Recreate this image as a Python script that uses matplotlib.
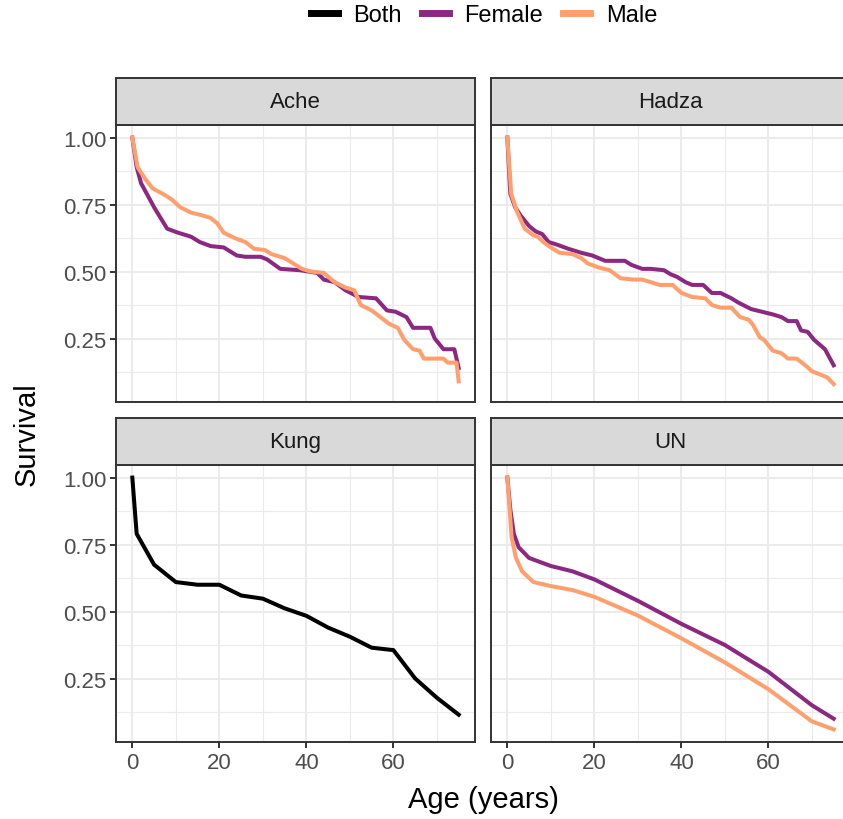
import matplotlib
matplotlib.use("Agg")
import matplotlib.pyplot as plt
from matplotlib.lines import Line2D

plt.rcParams['font.family'] = ['Liberation Sans', 'DejaVu Sans']

# ---- data ----
ache_f_age = [0, 1, 2, 5, 8, 10.5, 13.5, 15.5, 18, 21, 22.5, 24, 26, 29.5, 31, 34, 38.5, 42.5,
              44, 46.5, 49, 52, 56, 58.5, 60.5, 63, 64.5, 68.5, 69.5, 71.5, 74, 75]
ache_f_surv = [1.0, 0.89, 0.83, 0.74, 0.66, 0.645, 0.63, 0.61, 0.595, 0.59, 0.575, 0.56, 0.555,
               0.555, 0.545, 0.51, 0.505, 0.495, 0.47, 0.46, 0.43, 0.405, 0.40, 0.355, 0.35,
               0.33, 0.29, 0.29, 0.25, 0.21, 0.21, 0.14]
ache_m_age = [0, 1.2, 3, 4.7, 7, 9, 11, 13.5, 16, 18, 19.5, 21, 23.5, 26, 28, 30.5, 32, 35, 37,
              39, 41, 44, 46.5, 49, 51, 52.5, 55, 57, 59, 61, 62.5, 64.5, 66, 67, 71.5, 72.5,
              74.5, 75]
ache_m_surv = [1.0, 0.89, 0.845, 0.81, 0.79, 0.77, 0.74, 0.72, 0.71, 0.70, 0.68, 0.645, 0.625,
               0.61, 0.585, 0.58, 0.565, 0.55, 0.53, 0.51, 0.50, 0.495, 0.46, 0.44, 0.43,
               0.375, 0.355, 0.33, 0.305, 0.29, 0.245, 0.21, 0.205, 0.175, 0.175, 0.16, 0.16,
               0.09]

hadza_f_age = [0, 0.7, 1.8, 3, 5, 6.5, 8, 9.5, 11.5, 14, 17, 19.5, 22.5, 27, 28.5, 31, 33, 36,
               37.5, 39, 41, 42.5, 45, 47, 49, 51.5, 53, 56, 58.5, 61, 63, 64.5, 66.5, 67.5,
               69, 70.5, 73, 75]
hadza_f_surv = [1.0, 0.79, 0.74, 0.71, 0.67, 0.65, 0.64, 0.61, 0.60, 0.585, 0.57, 0.56, 0.54,
                0.54, 0.525, 0.51, 0.51, 0.505, 0.49, 0.48, 0.46, 0.45, 0.45, 0.42, 0.42, 0.40,
                0.385, 0.36, 0.35, 0.34, 0.33, 0.315, 0.315, 0.28, 0.275, 0.245, 0.21, 0.15]
hadza_m_age = [0, 0.9, 2.2, 4, 6, 7, 8.3, 10, 12, 15, 17, 18.5, 21, 23.5, 26, 29, 31, 33, 35,
               38, 40, 42.5, 45.5, 47, 49, 51.5, 53.5, 55.5, 56.5, 58, 59, 61, 63, 64.5, 66.5,
               68.5, 70, 73.5, 75]
hadza_m_surv = [1.0, 0.79, 0.725, 0.66, 0.635, 0.63, 0.61, 0.59, 0.57, 0.565, 0.55, 0.53,
                0.515, 0.505, 0.475, 0.47, 0.47, 0.46, 0.45, 0.45, 0.42, 0.405, 0.40, 0.375,
                0.365, 0.365, 0.33, 0.32, 0.30, 0.255, 0.245, 0.205, 0.195, 0.175, 0.175, 0.15,
                0.128, 0.105, 0.08]

kung_age = [0, 1, 5, 10, 15, 20, 25, 30, 35, 40, 45, 50, 55, 60, 65, 70, 75]
kung_surv = [1.0, 0.79, 0.675, 0.61, 0.60, 0.60, 0.56, 0.548, 0.512, 0.484, 0.44, 0.406,
             0.365, 0.356, 0.25, 0.178, 0.115]

un_f_age = [0, 0.7, 1.5, 2.6, 5, 10, 15, 20, 30, 40, 50, 60, 70, 75]
un_f_surv = [1.0, 0.88, 0.79, 0.74, 0.70, 0.67, 0.65, 0.62, 0.54, 0.454, 0.375, 0.275, 0.15, 0.10]
un_m_age = [0, 0.5, 1, 2, 3.4, 6, 10, 15, 20, 30, 40, 50, 60, 70, 75]
un_m_surv = [1.0, 0.89, 0.775, 0.70, 0.65, 0.61, 0.595, 0.58, 0.555, 0.485, 0.40, 0.31, 0.21,
             0.09, 0.06]

colors = {"Both": "#000000", "Female": "#8A2882", "Male": "#FE9F6D"}

panels = [
    ("Ache", [("Female", ache_f_age, ache_f_surv), ("Male", ache_m_age, ache_m_surv)]),
    ("Hadza", [("Female", hadza_f_age, hadza_f_surv), ("Male", hadza_m_age, hadza_m_surv)]),
    ("Kung", [("Both", kung_age, kung_surv)]),
    ("UN", [("Female", un_f_age, un_f_surv), ("Male", un_m_age, un_m_surv)]),
]

W, H = 843, 820
fig = plt.figure(figsize=(W / 100, H / 100), dpi=100)


def rect(x0, y0, x1, y1):
    return [x0 / W, 1 - y1 / H, (x1 - x0) / W, (y1 - y0) / H]


cols = [(116, 475), (491, 850)]
rows = [(79, 126, 403), (419, 466, 743)]
border = "#333333"

for i, (name, series) in enumerate(panels):
    r, c = divmod(i, 2)
    x0, x1 = cols[c]
    s0, p0, p1 = rows[r]

    ax = fig.add_axes(rect(x0, p0, x1, p1))
    for lab, xs, ys in series:
        ax.plot(xs, ys, color=colors[lab], lw=2.9, solid_joinstyle='round', zorder=3)
    ax.set_xlim(-3.75, 78.75)
    ax.set_ylim(0.013, 1.047)
    ax.set_xticks([0, 20, 40, 60])
    ax.set_xticks([10, 30, 50, 70], minor=True)
    ax.set_yticks([0.25, 0.5, 0.75, 1.0])
    ax.set_yticks([0.125, 0.375, 0.625, 0.875], minor=True)
    ax.grid(which='major', color='#EBEBEB', lw=1.5)
    ax.grid(which='minor', color='#EBEBEB', lw=0.8)
    ax.set_axisbelow(True)
    for sp in ax.spines.values():
        sp.set_color(border)
        sp.set_linewidth(1.4)
    ax.tick_params(which='minor', length=0)
    ax.tick_params(which='major', length=4, width=1.4, color=border,
                   labelcolor='#4D4D4D', labelsize=16, pad=3)
    if c == 0:
        ax.set_yticklabels(["0.25", "0.50", "0.75", "1.00"])
    else:
        ax.tick_params(axis='y', length=0, labelleft=False)
    if r == 1:
        ax.set_xticklabels(["0", "20", "40", "60"])
    else:
        ax.tick_params(axis='x', length=0, labelbottom=False)

    sax = fig.add_axes(rect(x0, s0, x1, p0))
    sax.set_facecolor('#D9D9D9')
    sax.set_xticks([])
    sax.set_yticks([])
    for sp in sax.spines.values():
        sp.set_color(border)
        sp.set_linewidth(1.4)
    sax.text((475 - 116) / 2 / (x1 - x0), 0.5, name, transform=sax.transAxes,
             ha='center', va='center', fontsize=16, color='#1A1A1A')

fig.text(483 / W, 1 - 800 / H, "Age (years)", ha='center', va='center', fontsize=21)
fig.text(27 / W, 1 - 434 / H, "Survival", ha='center', va='center', fontsize=21,
         rotation=90)

handles = [Line2D([], [], color=colors[k], lw=5) for k in ["Both", "Female", "Male"]]
fig.legend(handles, ["Both", "Female", "Male"], loc='center', ncol=3,
           bbox_to_anchor=(484 / W, 1 - 16 / H), frameon=False, fontsize=17,
           handlelength=1.15, columnspacing=0.85, handletextpad=0.65)

fig.savefig("out.png", dpi=100)
